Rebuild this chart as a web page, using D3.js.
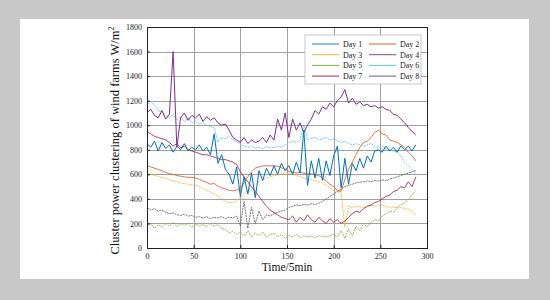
<!DOCTYPE html>
<html><head><meta charset="utf-8">
<script src="https://cdn.jsdelivr.net/npm/d3@7"></script>
<style>body{margin:0;background:#c8c8c8;}svg{display:block;}</style>
</head><body>
<svg id="c" width="550" height="300"></svg>
<script>
const xs = d3.range(0, 289, 4);
const day1 = [850,820,870,790,860,810,840,780,830,800,850,790,820,800,840,790,820,760,930,690,760,640,600,520,660,420,580,440,610,410,630,550,650,590,670,600,690,630,670,600,700,610,960,510,710,570,730,550,710,590,750,830,490,730,520,690,630,730,650,750,700,790,800,780,830,790,820,780,830,800,830,790,840];
const day2 = [670,660,650,640,630,615,605,600,590,585,580,575,575,570,560,545,535,520,525,505,490,480,470,465,470,490,530,580,620,650,660,668,670,668,670,665,655,640,625,615,612,615,610,605,605,600,590,570,545,520,500,470,460,560,640,700,760,820,860,870,900,940,960,930,920,880,870,860,840,820,780,750,710];
const day3 = [610,600,590,585,575,565,555,545,540,530,525,520,515,510,500,485,470,455,440,420,400,380,370,370,385,410,440,470,500,520,540,555,570,580,590,595,605,615,610,600,590,580,570,560,555,550,540,530,510,490,470,460,450,170,340,330,340,335,330,340,350,340,345,350,340,330,335,325,330,320,315,300,270];
const day4 = [1100,1130,1080,1060,1120,1050,1090,1600,820,1060,1100,1040,1080,1060,1090,1030,1070,1040,1060,1020,1000,1010,960,900,880,860,900,850,880,860,870,900,860,920,880,1050,960,1100,900,1050,960,1020,940,1000,1050,1120,1090,1150,1130,1180,1150,1200,1230,1290,1180,1220,1170,1190,1160,1170,1150,1160,1140,1150,1130,1120,1090,1080,1050,1020,980,950,920];
const day5 = [180,200,160,190,170,200,180,210,175,195,185,200,170,195,180,190,175,200,180,190,160,150,120,140,110,130,100,140,90,120,100,130,90,110,120,90,110,80,100,90,110,85,100,90,95,85,100,95,90,100,110,90,140,80,160,100,180,140,200,170,210,230,220,260,280,300,290,330,350,370,400,430,470];
const day6 = [1170,1190,1160,1120,1110,1080,1060,1090,1040,1070,1030,1060,1020,1040,1010,1020,1000,990,980,860,900,890,910,880,870,840,830,820,830,815,820,810,825,815,820,830,820,840,860,870,860,880,1000,880,890,900,880,890,900,880,890,870,860,870,850,840,850,840,830,840,850,830,820,830,810,800,790,780,750,700,670,640,600];
const day7 = [950,930,910,900,890,880,860,830,850,815,830,800,790,780,770,760,760,750,740,730,720,720,710,700,680,620,580,540,500,460,420,380,340,310,290,270,250,240,230,260,210,250,220,270,230,210,250,220,200,240,210,230,200,220,250,280,300,290,320,340,350,370,380,400,420,430,460,470,500,490,540,500,580];
const day8 = [330,310,320,300,310,290,280,285,270,265,275,260,265,250,255,245,255,240,250,245,255,240,250,245,260,180,380,160,330,200,300,230,270,260,280,290,300,310,330,340,350,345,355,350,360,355,365,380,400,420,440,460,480,500,510,520,530,535,540,545,540,550,545,555,550,560,570,580,590,600,610,620,630];
const seriesNames = ["Day 1","Day 2","Day 3","Day 4","Day 5","Day 6","Day 7","Day 8"];
const seriesColors = ["#0072BD","#D95319","#EDB120","#7E2F8E","#77AC30","#4DBEEE","#A2142F","#555555"];
const xTicks = [0,50,100,150,200,250,300];
const yTicks = [0,200,400,600,800,1000,1200,1400,1600,1800];

const all = [day1,day2,day3,day4,day5,day6,day7,day8];
const svg = d3.select("#c");
svg.append("rect").attr("x",20).attr("y",19).attr("width",509).attr("height",260).attr("fill","#fff");

const L=147,R=427,T=27,B=248;
const x = d3.scaleLinear().domain([0,300]).range([L,R]);
const y = d3.scaleLinear().domain([0,1800]).range([B,T]);
const font = "'Liberation Serif','Times New Roman',serif";

// grid as thin filled rects
const grid = svg.append("g");
grid.selectAll("rect.v").data(xTicks.slice(1,-1)).enter().append("rect")
  .attr("x",d=>Math.round(x(d))).attr("y",T).attr("width",1).attr("height",B-T)
  .attr("fill","#a0a0a0");
grid.selectAll("rect.h").data(yTicks.slice(1,-1)).enter().append("rect")
  .attr("x",L).attr("y",d=>Math.round(y(d))).attr("width",R-L).attr("height",1)
  .attr("fill","#a0a0a0");

const line = d3.line().x((d,i)=>x(xs[i])).y(d=>y(d));
const order = [4,7,2,1,6,5,3,0];
order.forEach(k=>{
  svg.append("path").datum(all[k]).attr("d",line).attr("fill","none")
    .attr("stroke",seriesColors[k]).attr("stroke-width",k===0||k===3?1:0.8)
    .attr("stroke-dasharray", (k===2||k===4||k===5||k===7)?"2,0.8":null);
});

// axes
const fmt = d3.format("d");
const xa = svg.append("g").attr("transform",`translate(0,${B})`)
  .call(d3.axisBottom(x).tickValues(xTicks).tickFormat(fmt).tickSize(-3).tickPadding(5));
const ya = svg.append("g").attr("transform",`translate(${L},0)`)
  .call(d3.axisLeft(y).tickValues(yTicks).tickFormat(fmt).tickSize(-3).tickPadding(5));
[xa,ya].forEach(g=>{
  g.select(".domain").attr("stroke","#222");
  g.selectAll(".tick line").attr("stroke","#222");
  g.selectAll("text").attr("font-family",font).attr("font-size",8).attr("fill","#222");
});
svg.append("rect").attr("x",L+0.5).attr("y",T+0.5).attr("width",R-L).attr("height",B-T)
  .attr("fill","none").attr("stroke","#222").attr("stroke-width",1);

svg.append("text").attr("x",(L+R)/2).attr("y",271).attr("text-anchor","middle")
  .attr("font-family",font).attr("font-size",11.5).attr("fill","#111").text("Time/5min");
const yl = svg.append("text").attr("transform",`translate(119,${(T+B)/2+3}) rotate(-90)`)
  .attr("text-anchor","middle").attr("font-family",font).attr("font-size",12.5).attr("fill","#111");
yl.append("tspan").text("Cluster power clustering of wind farms W/m");
yl.append("tspan").attr("dy",-5).attr("font-size",8).text("2");

// legend
const lg = svg.append("g");
lg.append("rect").attr("x",305).attr("y",35).attr("width",116).attr("height",49)
  .attr("fill","#fff").attr("stroke","#bbb").attr("stroke-width",0.8);
seriesNames.forEach((n,i)=>{
  const col=i%2,row=Math.floor(i/2);
  const lx = col? 369:312, ly = 44+row*10.7;
  lg.append("line").attr("x1",lx).attr("x2",lx+27).attr("y1",ly).attr("y2",ly)
    .attr("stroke",seriesColors[i]).attr("stroke-width",0.9);
  lg.append("text").attr("x",lx+31).attr("y",ly+3).attr("font-family",font)
    .attr("font-size",8).attr("fill","#222").text(n);
});
</script>
</body></html>
